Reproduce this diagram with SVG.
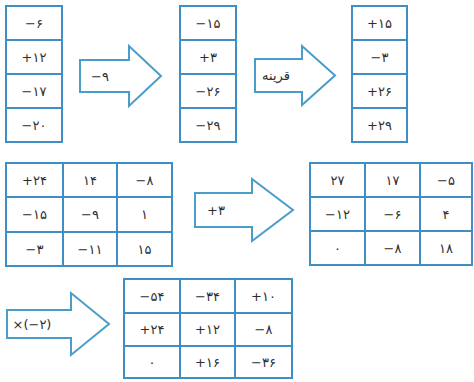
<svg xmlns="http://www.w3.org/2000/svg" width="474" height="382" viewBox="0 0 474 382">
<style>
.box{fill:#ffffff;stroke:#3f8fc4;stroke-width:2}
.ln{stroke:#3f8fc4;stroke-width:2}
.arr{fill:#ffffff;stroke:#4a9ccb;stroke-width:2;stroke-linejoin:miter}
text{font-family:"DejaVu Sans","Noto Sans",sans-serif;font-size:13px;fill:#2e2e2e;text-anchor:middle;dominant-baseline:central}
</style>
<rect width="474" height="382" fill="#ffffff"/>

<g id="col1">
<rect class="box" x="6" y="6" width="56" height="136"/>
<line class="ln" x1="6" y1="40" x2="62" y2="40"/>
<line class="ln" x1="6" y1="74" x2="62" y2="74"/>
<line class="ln" x1="6" y1="108" x2="62" y2="108"/>
<text x="34" y="23">−۶</text>
<text x="34" y="57">+۱۲</text>
<text x="34" y="91">−۱۷</text>
<text x="34" y="125">−۲۰</text>
</g>

<g id="col2">
<rect class="box" x="180" y="6" width="56" height="136"/>
<line class="ln" x1="180" y1="40" x2="236" y2="40"/>
<line class="ln" x1="180" y1="74" x2="236" y2="74"/>
<line class="ln" x1="180" y1="108" x2="236" y2="108"/>
<text x="208" y="23">−۱۵</text>
<text x="208" y="57">+۳</text>
<text x="208" y="91">−۲۶</text>
<text x="208" y="125">−۲۹</text>
</g>

<g id="col3">
<rect class="box" x="352" y="6" width="55" height="136"/>
<line class="ln" x1="352" y1="40" x2="407" y2="40"/>
<line class="ln" x1="352" y1="74" x2="407" y2="74"/>
<line class="ln" x1="352" y1="108" x2="407" y2="108"/>
<text x="379.5" y="23">+۱۵</text>
<text x="379.5" y="57">−۳</text>
<text x="379.5" y="91">+۲۶</text>
<text x="379.5" y="125">+۲۹</text>
</g>

<g id="table1">
<rect class="box" x="6" y="163" width="166" height="103"/>
<line class="ln" x1="63" y1="163" x2="63" y2="266"/>
<line class="ln" x1="117" y1="163" x2="117" y2="266"/>
<line class="ln" x1="6" y1="197" x2="172" y2="197"/>
<line class="ln" x1="6" y1="232" x2="172" y2="232"/>
<text x="34.5" y="180">+۲۴</text><text x="90" y="180">۱۴</text><text x="144.5" y="180">−۸</text>
<text x="34.5" y="214.5">−۱۵</text><text x="90" y="214.5">−۹</text><text x="144.5" y="214.5">۱</text>
<text x="34.5" y="249">−۳</text><text x="90" y="249">−۱۱</text><text x="144.5" y="249">۱۵</text>
</g>

<g id="table2">
<rect class="box" x="310" y="163" width="162" height="102"/>
<line class="ln" x1="365" y1="163" x2="365" y2="265"/>
<line class="ln" x1="420" y1="163" x2="420" y2="265"/>
<line class="ln" x1="310" y1="197" x2="472" y2="197"/>
<line class="ln" x1="310" y1="231" x2="472" y2="231"/>
<text x="337.5" y="180">۲۷</text><text x="392.5" y="180">۱۷</text><text x="446" y="180">−۵</text>
<text x="337.5" y="214">−۱۲</text><text x="392.5" y="214">−۶</text><text x="446" y="214">۴</text>
<text x="337.5" y="248">۰</text><text x="392.5" y="248">−۸</text><text x="446" y="248">۱۸</text>
</g>

<g id="table3">
<rect class="box" x="124" y="279" width="168" height="99"/>
<line class="ln" x1="180" y1="279" x2="180" y2="378"/>
<line class="ln" x1="235" y1="279" x2="235" y2="378"/>
<line class="ln" x1="124" y1="313" x2="292" y2="313"/>
<line class="ln" x1="124" y1="346" x2="292" y2="346"/>
<text x="152" y="296">−۵۴</text><text x="207.5" y="296">−۳۴</text><text x="263.5" y="296">+۱۰</text>
<text x="152" y="329.5">+۲۴</text><text x="207.5" y="329.5">+۱۲</text><text x="263.5" y="329.5">−۸</text>
<text x="152" y="362">۰</text><text x="207.5" y="362">+۱۶</text><text x="263.5" y="362">−۳۶</text>
</g>

<g id="connectors">
<g id="arrow1">
<path class="arr" d="M80,60 H129 V46 L161,76 L129,106 V92 H80 Z"/>
<text x="100" y="76">−۹</text>
</g>
<g id="arrow2">
<path class="arr" d="M255,59 H302 V46 L335,75.5 L302,105 V92 H255 Z"/>
<text x="276" y="75">قرینه</text>
</g>
<g id="arrow3">
<path class="arr" d="M195,193 H252 V179 L293,210 L252,241 V227 H195 Z"/>
<text x="216" y="210">+۳</text>
</g>
<g id="arrow4">
<path class="arr" d="M7,310 H71 V293 L109,324 L71,355 V338 H7 Z"/>
<text x="32" y="324">×(−۲)</text>
</g>
</g>
</svg>
